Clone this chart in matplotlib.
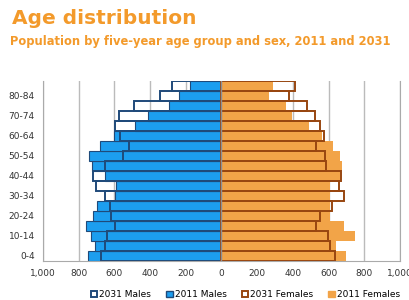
import matplotlib.pyplot as plt
from matplotlib.patches import Patch
from matplotlib.ticker import FuncFormatter, MultipleLocator

ages = ['0-4', '5-9', '10-14', '15-19', '20-24', '25-29', '30-34', '35-39', '40-44',
        '45-49', '50-54', '55-59', '60-64', '65-69', '70-74', '75-79', '80-84', '85+']
males_2011 = [746, 709, 730, 761, 718, 696, 597, 590, 655, 724, 743, 681, 603, 482, 413, 295, 239, 179]
males_2031 = [674, 655, 640, 599, 616, 625, 655, 702, 720, 655, 550, 519, 569, 597, 575, 491, 347, 276]
females_2011 = [700, 644, 750, 685, 610, 610, 606, 606, 662, 676, 662, 623, 565, 489, 396, 364, 265, 289]
females_2031 = [634, 610, 597, 532, 554, 620, 685, 657, 670, 588, 582, 530, 573, 550, 526, 480, 377, 410]

orange = '#F39A2B'
blue = '#1C9EEF'
dark_blue = '#1F4A7A'
fem = '#F2A448'
brown = '#984610'

fig = plt.figure(figsize=(4.09, 3.0), dpi=100)
ax = fig.add_axes([0.105, 0.131, 0.873, 0.6])

y = range(len(ages))
# 2011 filled bars
ax.barh(y, [-v for v in males_2011], height=1.0, color=blue, edgecolor=dark_blue, linewidth=0.8, zorder=2)
ax.barh(y, females_2011, height=1.0, color=fem, linewidth=0, zorder=2)
# 2031 outlines on top
ax.barh(y, [-v for v in males_2031], height=1.0, fill=False, edgecolor=dark_blue, linewidth=1.4, zorder=3)
ax.barh(y, females_2031, height=1.0, fill=False, edgecolor=brown, linewidth=1.4, zorder=3)
ax.axvline(0, color='#8A8F99', lw=1.0, zorder=4)

ax.set_xlim(-1000, 1000)
ax.set_ylim(-0.5, len(ages) - 0.5)
ax.xaxis.set_major_locator(MultipleLocator(200))
ax.xaxis.set_major_formatter(FuncFormatter(lambda v, p: f'{abs(int(v)):,}'))
ax.set_yticks(list(y)[::2])
ax.set_yticklabels(ages[::2])
ax.tick_params(length=0, labelsize=6.5, colors='#333333', pad=6)
ax.grid(axis='x', color='#BBBBBB', lw=1.0, zorder=0)
ax.set_axisbelow(True)
for s in ['left', 'right', 'bottom']:
    ax.spines[s].set_color('#AAAAAA')
ax.spines['top'].set_visible(False)

handles = [
    Patch(facecolor='white', edgecolor=dark_blue, linewidth=1.4, label='2031 Males'),
    Patch(facecolor=blue, edgecolor=dark_blue, linewidth=1.0, label='2011 Males'),
    Patch(facecolor='white', edgecolor=brown, linewidth=1.4, label='2031 Females'),
    Patch(facecolor=fem, edgecolor=fem, label='2011 Females'),
]
fig.legend(handles=handles, loc='lower center', bbox_to_anchor=(0.6, -0.025), ncol=4, frameon=False,
           fontsize=6.5, handlelength=0.7, handleheight=0.7, handletextpad=0.2, columnspacing=1.7)

fig.text(0.03, 0.94, 'Age distribution', fontsize=14.5, fontweight='bold', color=orange, va='center')
fig.text(0.025, 0.86, 'Population by five-year age group and sex, 2011 and 2031', fontsize=8.3,
         fontweight='bold', color=orange, va='center')

fig.savefig('out.png', dpi=100)
